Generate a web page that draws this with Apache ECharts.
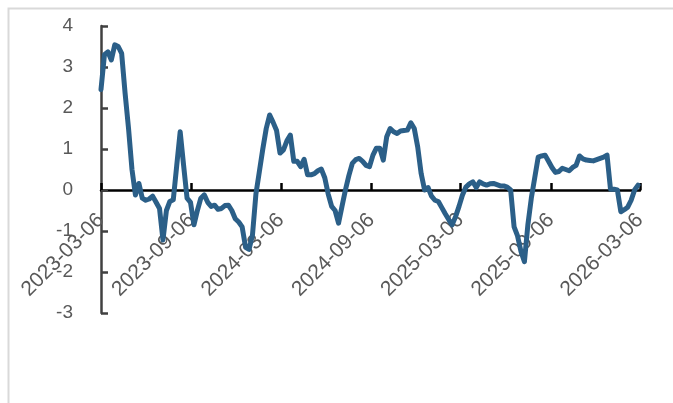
<!DOCTYPE html>
<html>
<head>
<meta charset="utf-8">
<script src="https://cdn.jsdelivr.net/npm/echarts@6/dist/echarts.min.js"></script>
<style>
html,body{margin:0;padding:0;background:#fff;}
#chart{width:673px;height:403px;}
</style>
</head>
<body>
<div id="chart"></div>
<script>
// Weekly series starting 2023-03-06
var startDate = [2023, 3, 6];
var values = [
  2.45, 3.30, 3.37, 3.17, 3.54, 3.50, 3.33, 2.36, 1.50, 0.50,
  -0.12, 0.16, -0.20, -0.25, -0.22, -0.15, -0.30, -0.45, -1.22, -0.50,
  -0.28, -0.24, 0.60, 1.42, 0.60, -0.20, -0.30, -0.85, -0.50, -0.20,
  -0.12, -0.30, -0.40, -0.37, -0.47, -0.45, -0.38, -0.37, -0.50, -0.70,
  -0.78, -0.90, -1.40, -1.45, -1.10, -0.10, 0.45, 1.00, 1.50, 1.83,
  1.65, 1.45, 0.90, 0.98, 1.20, 1.34, 0.70, 0.70, 0.57, 0.75,
  0.37, 0.37, 0.40, 0.47, 0.51, 0.30, -0.10, -0.40, -0.50, -0.81,
  -0.40, 0.00, 0.35, 0.65, 0.74, 0.77, 0.70, 0.60, 0.57, 0.85,
  1.02, 1.02, 0.73, 1.30, 1.50, 1.42, 1.38, 1.44, 1.45, 1.46,
  1.64, 1.50, 1.05, 0.40, 0.00, 0.06, -0.15, -0.25, -0.28, -0.43,
  -0.58, -0.72, -0.85, -0.65, -0.40, -0.12, 0.07, 0.15, 0.20, 0.06,
  0.20, 0.15, 0.12, 0.15, 0.16, 0.13, 0.10, 0.10, 0.07, 0.00,
  -0.90, -1.12, -1.50, -1.75, -0.85, -0.20, 0.30, 0.80, 0.83, 0.85,
  0.70, 0.55, 0.43, 0.45, 0.53, 0.50, 0.47, 0.55, 0.60, 0.83,
  0.76, 0.73, 0.72, 0.71, 0.74, 0.77, 0.80, 0.85, 0.02, 0.02,
  0.00, -0.53, -0.48, -0.42, -0.25, 0.00, 0.12
];
var tickLabels = ['2023-03-06','2023-09-06','2024-03-06','2024-09-06','2025-03-06','2025-09-06','2026-03-06'];
var yMin = -3, yMax = 4, yStep = 1;

var DAY = 86400000;
function toDay(y, m, d){ return Math.round(Date.UTC(y, m-1, d) / DAY); }
function strToDay(s){ var p = s.split('-'); return toDay(+p[0], +p[1], +p[2]); }
function fmt(dayNum){
  var d = new Date(Math.round(dayNum) * DAY);
  var m = d.getUTCMonth()+1, dd = d.getUTCDate();
  return d.getUTCFullYear() + '-' + (m<10?'0':'') + m + '-' + (dd<10?'0':'') + dd;
}
var day0 = toDay(startDate[0], startDate[1], startDate[2]);
var seriesData = values.map(function(v, i){ return [day0 + 7*i, v]; });
var tickDays = tickLabels.map(strToDay);

var GRID_TOP = 26, GRID_BOTTOM = 90, H = 403;
var plotH = H - GRID_TOP - GRID_BOTTOM;
// x axis sits at y = 0: offset from the bottom edge of the grid
var zeroOffset = -plotH * (0 - yMin) / (yMax - yMin);

var chart = echarts.init(document.getElementById('chart'), null, {renderer:'canvas'});
var FONT = 'Liberation Sans';
chart.setOption({
  animation: false,
  backgroundColor: '#ffffff',
  graphic: [{
    type: 'rect', left: 6, top: 6, silent: true,
    shape: {x: 0, y: 0, width: 720, height: 440},
    style: {fill: 'none', stroke: '#d9d9d9', lineWidth: 2}
  }],
  grid: {left: 101, right: 33, top: GRID_TOP, bottom: GRID_BOTTOM, containLabel: false, outerBoundsMode: 'none'},
  xAxis: {
    type: 'value',
    min: tickDays[0],
    max: tickDays[tickDays.length-1],
    offset: zeroOffset,
    axisLine: {onZero: false, lineStyle: {color: '#000000', width: 2.5}},
    axisTick: {show: true, inside: true, length: 7, customValues: tickDays, lineStyle: {color: '#000000', width: 2.5}},
    axisLabel: {
      customValues: tickDays,
      rotate: 45,
      margin: 27,
      color: '#595959',
      fontSize: 21,
      fontFamily: FONT,
      formatter: function(v){ return fmt(v); },
      hideOverlap: false
    },
    splitLine: {show: false}
  },
  yAxis: {
    type: 'value',
    min: yMin, max: yMax, interval: yStep,
    axisLine: {show: true, lineStyle: {color: '#404040', width: 2.5}},
    axisTick: {show: true, inside: true, length: 7, lineStyle: {color: '#404040', width: 2.5}},
    axisLabel: {color: '#595959', fontSize: 19, fontFamily: FONT, margin: 28},
    splitLine: {show: false}
  },
  series: [{
    type: 'line',
    data: seriesData,
    showSymbol: false,
    symbol: 'none',
    lineStyle: {color: '#2b5f88', width: 5, cap: 'round', join: 'round'},
    z: 3
  }]
});
</script>
</body>
</html>
